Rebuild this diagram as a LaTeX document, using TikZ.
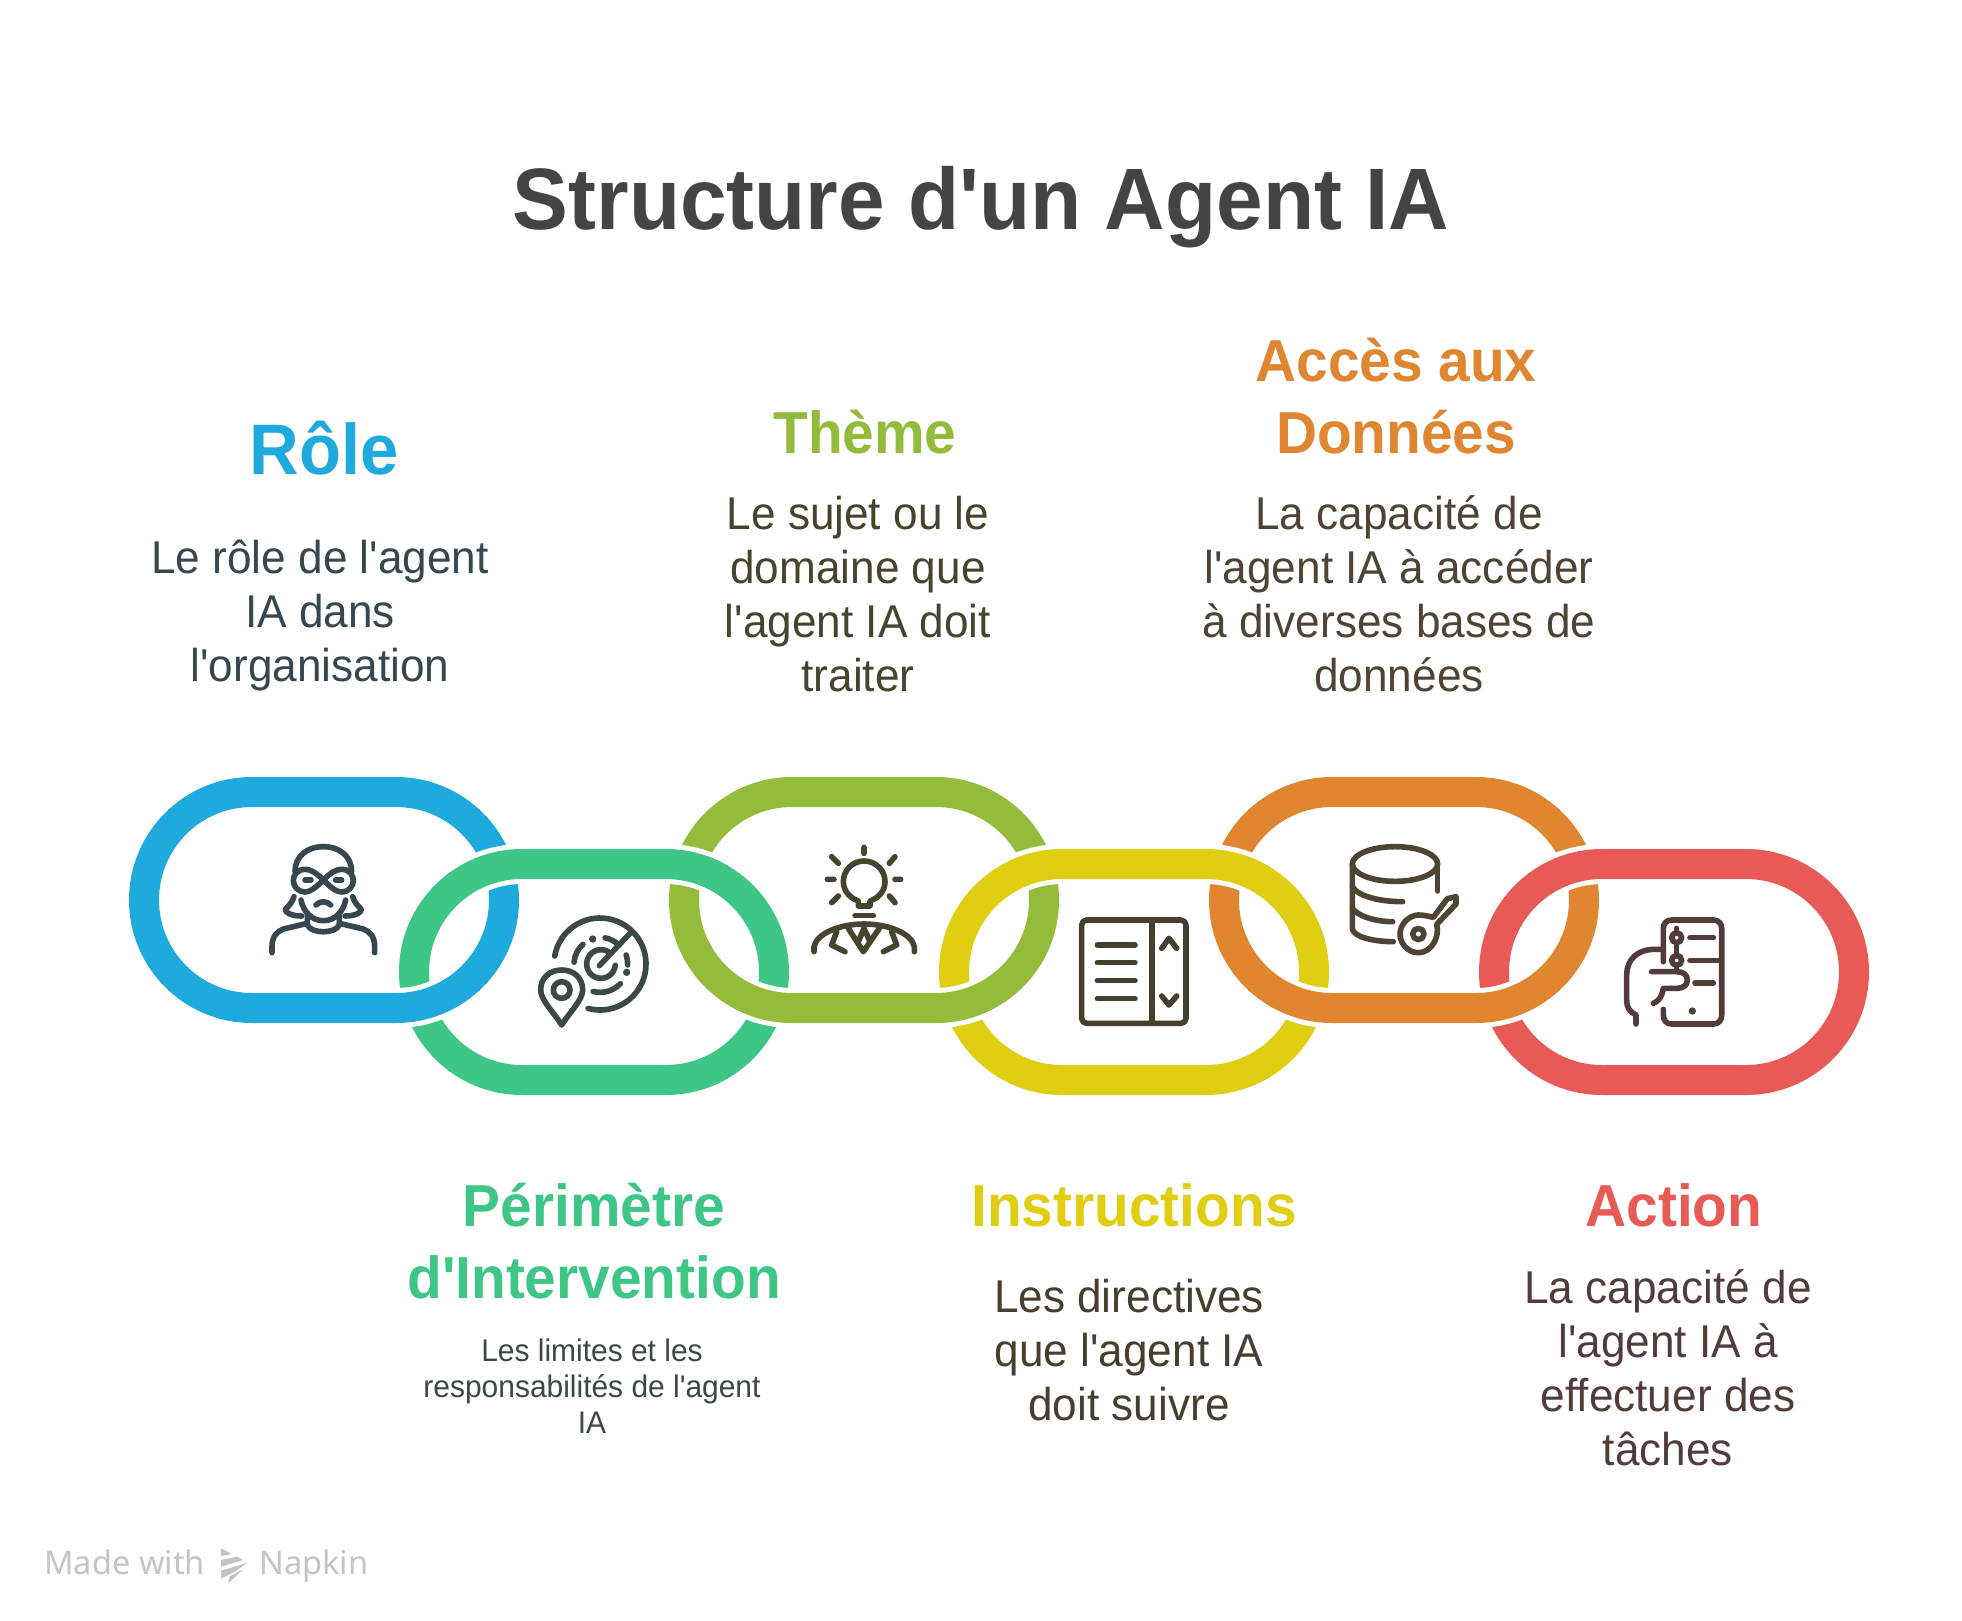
\documentclass[tikz,border=0pt]{standalone}
\usepackage{fontspec}
\setmainfont[FakeStretch=0.96,Ligatures=TeXOff]{Liberation Sans}
\newfontfamily\wm{Noto Sans}
\definecolor{cblue}{HTML}{1EAADC}
\definecolor{cgreen}{HTML}{3EC686}
\definecolor{colive}{HTML}{92BC3A}
\definecolor{cyellow}{HTML}{E0CE12}
\definecolor{corange}{HTML}{E08530}
\definecolor{cred}{HTML}{E85A55}
\definecolor{dblue}{HTML}{37474F}
\definecolor{dgreen}{HTML}{3A4A42}
\definecolor{dolive}{HTML}{45452F}
\definecolor{dyellow}{HTML}{45402E}
\definecolor{dorange}{HTML}{4F4334}
\definecolor{dred}{HTML}{523B3B}
\definecolor{ctitle}{HTML}{444444}
\definecolor{cmark}{HTML}{C4C4C4}
\tikzset{
 ringline/.style={line width=15pt},
 ringhalo/.style={line width=20pt,draw=white},
 ttl/.style={align=center,inner sep=0pt,font=\bfseries\fontsize{29.6}{36}\selectfont},
 dsc/.style={align=center,inner sep=0pt,font=\fontsize{23}{27}\selectfont},
 ico/.style={line width=2.8pt,line cap=round,line join=round},
 zoomed/.style={x=0.16667pt,y=-0.16667pt}
}
\newcommand\ringat[3]{%
 \draw[ringhalo,rounded corners=54pt] (#1,#2) rectangle ++(360,216);
 \draw[ringline,draw=#3,rounded corners=54pt] (#1,#2) rectangle ++(360,216);}
\begin{document}
\begin{tikzpicture}[x=0.5pt,y=-0.5pt]
\useasboundingbox[fill=white] (0,0) rectangle (1962,1620);
% rings: odd ones below, even ones above in the upper half
\ringat{144}{792}{cblue}
\ringat{684}{792}{colive}
\ringat{1224}{792}{corange}
\ringat{414}{864}{cgreen}
\ringat{954}{864}{cyellow}
\ringat{1494}{864}{cred}
\begin{scope}
\clip (0,936) rectangle (1962,1620);
\ringat{144}{792}{cblue}
\ringat{684}{792}{colive}
\ringat{1224}{792}{corange}
\end{scope}
% titles
\node[inner sep=0pt,text=ctitle,font=\bfseries\fontsize{43.6}{50}\selectfont] (title) at (981,207) {Structure d'un Agent IA};
\node[ttl,text=cblue,font=\bfseries\fontsize{35.8}{40}\selectfont] (t1) at (324,448) {Rôle};
\node[dsc,text=dblue] (d1) at (320,616) {Le rôle de l'agent\\IA dans\\l'organisation};
\node[ttl,text=cgreen] (t2) at (594,1241) {Périmètre\\d'Intervention};
\node[align=center,inner sep=0pt,text=dgreen,font=\fontsize{15.6}{18}\selectfont] (d2) at (592,1386) {Les limites et les\\responsabilités de l'agent\\IA};
\node[ttl,text=colive] (t3) at (865,432) {Thème};
\node[dsc,text=dolive] (d3) at (858,594) {Le sujet ou le\\domaine que\\l'agent IA doit\\traiter};
\node[ttl,text=corange] (t4) at (1396,396) {Accès aux\\Données};
\node[dsc,text=dorange] (d4) at (1399,594) {La capacité de\\l'agent IA à accéder\\à diverses bases de\\données};
\node[ttl,text=cyellow] (t5) at (1134,1205) {Instructions};
\node[dsc,text=dyellow] (d5) at (1129,1350) {Les directives\\que l'agent IA\\doit suivre};
\node[ttl,text=cred] (t6) at (1674,1205) {Action};
\node[dsc,text=dred] (d6) at (1668,1368) {La capacité de\\l'agent IA à\\effectuer des\\tâches};
% icon 1
\begin{scope}[shift={(240,830)},zoomed]
\draw[ico,draw=dblue] (165,125) .. controls (165,80) and (200,50) .. (250,50) .. controls (300,50) and (335,80) .. (335,125);
\draw[ico,draw=dblue] (250,150) .. controls (225,125) and (210,118) .. (195,118) .. controls (172,118) and (160,135) .. (160,152) .. controls (160,170) and (175,186) .. (195,186) .. controls (210,186) and (225,175) .. (250,150) .. controls (275,125) and (290,118) .. (305,118) .. controls (328,118) and (340,135) .. (340,152) .. controls (340,170) and (325,186) .. (305,186) .. controls (290,186) and (275,175) .. (250,150);
\draw[ico,draw=dblue] (195,150) -- (213,150) (287,150) -- (305,150);
\draw[ico,draw=dblue] (228,225) .. controls (240,212) and (260,212) .. (272,225);
\draw[ico,draw=dblue] (183,210) .. controls (190,245) and (215,272) .. (250,272) .. controls (285,272) and (310,245) .. (317,210);
\draw[ico,draw=dblue] (162,200) .. controls (158,215) and (148,226) .. (136,238) .. controls (135,248) and (155,258) .. (185,258);
\draw[ico,draw=dblue] (338,200) .. controls (342,215) and (352,226) .. (364,238) .. controls (365,248) and (345,258) .. (315,258);
\draw[ico,draw=dblue] (202,250) -- (202,285) .. controls (215,312) and (285,312) .. (298,285) -- (298,250);
\draw[ico,draw=dblue] (96,368) -- (96,350) .. controls (96,320) and (110,305) .. (130,297) -- (202,280);
\draw[ico,draw=dblue] (404,368) -- (404,350) .. controls (404,320) and (390,305) .. (370,297) -- (298,280);
\end{scope}
% icon 2
\begin{scope}[shift={(520,900)},zoomed]
\draw[ico,draw=dgreen] (240,192) ++(-170:138) arc[start angle=-170,end angle=105,radius=138];
\draw[ico,draw=dgreen] (240,192) ++(-176:78) arc[start angle=-176,end angle=-131,radius=78];
\draw[ico,draw=dgreen] (240,192) ++(-79:80) arc[start angle=-79,end angle=-45,radius=80];
\draw[ico,draw=dgreen] (240,192) ++(-19:83) arc[start angle=-19,end angle=2,radius=83];
\draw[ico,draw=dgreen] (240,192) ++(104:85) arc[start angle=104,end angle=44,radius=85];
\draw[ico,draw=dgreen] (243,192) ++(-60:43) arc[start angle=-60,end angle=-355,radius=43];
\draw[ico,draw=dgreen] (238,197) -- (330,100);
\fill[dgreen] (218,117) circle[radius=11] (320,217) circle[radius=11];
\draw[ico,draw=dgreen] (125,375) .. controls (100,335) and (62,300) .. (62,270) .. controls (62,232) and (90,210) .. (125,210) .. controls (160,210) and (188,232) .. (188,270) .. controls (188,300) and (150,335) .. (125,375) -- cycle;
\draw[ico,draw=dgreen] (125,270) circle[radius=25];
\end{scope}
% icon 3
\begin{scope}[shift={(790,830)},zoomed]
\draw[ico,draw=dolive] (222,52) -- (222,70) (125,80) -- (145,100) (315,80) -- (298,100) (112,148) -- (132,148) (315,148) -- (332,148) (125,218) -- (145,198) (315,218) -- (298,198);
\draw[ico,draw=dolive] (205,228) -- (205,213) .. controls (178,203) and (160,182) .. (160,155) .. controls (160,120) and (188,93) .. (222,93) .. controls (256,93) and (285,120) .. (285,155) .. controls (285,182) and (267,203) .. (240,213) -- (240,228) -- cycle;
\draw[ico,draw=dolive] (195,257) -- (250,257);
\draw[ico,draw=dolive] (72,365) -- (72,350) .. controls (80,310) and (150,282) .. (222,282) .. controls (295,282) and (365,310) .. (373,350) -- (373,365);
\draw[ico,draw=dolive] (175,295) -- (220,365) -- (268,295);
\draw[ico,draw=dolive] (222,295) -- (205,335) (222,295) -- (240,335);
\draw[ico,draw=dolive] (140,305) -- (125,345) -- (165,365) (305,305) -- (320,345) -- (280,365);
\end{scope}
% icon 4
\begin{scope}[shift={(1060,900)},zoomed]
\draw[ico,draw=dyellow,rounded corners=2.5pt] (65,60) rectangle (378,370);
\draw[ico,draw=dyellow] (276,60) -- (276,370);
\draw[ico,draw=dyellow] (112,135) -- (225,135) (112,188) -- (225,188) (112,242) -- (225,242) (112,296) -- (225,296);
\draw[ico,draw=dyellow] (305,145) -- (327,115) -- (350,145) (305,288) -- (327,315) -- (350,288);
\end{scope}
% icon 5
\begin{scope}[shift={(1330,830)},zoomed]
\draw[ico,draw=dorange] (195,102) ellipse[x radius=128,y radius=52];
\draw[ico,draw=dorange] (67,102) -- (67,295) .. controls (67,320) and (130,335) .. (190,335);
\draw[ico,draw=dorange] (67,170) .. controls (80,195) and (140,215) .. (218,215);
\draw[ico,draw=dorange] (67,235) .. controls (80,255) and (130,275) .. (188,275);
\draw[ico,draw=dorange] (323,102) -- (323,183);
\draw[ico,draw=dorange] (310,262) -- (352,206) -- (378,200) -- (378,222) -- (320,283) .. controls (330,320) and (305,368) .. (265,368) .. controls (235,368) and (210,342) .. (210,312) .. controls (210,280) and (240,255) .. (265,255) .. controls (285,255) and (300,260) .. (310,262) -- cycle;
\draw[ico,draw=dorange] (265,312) circle[radius=17];
\end{scope}
% icon 6
\begin{scope}[shift={(1600,900)},zoomed]
\draw[ico,draw=dred] (190,185) -- (190,85) .. controls (190,70) and (200,60) .. (215,60) -- (340,60) .. controls (355,60) and (365,70) .. (365,85) -- (365,345) .. controls (365,362) and (355,372) .. (340,372) -- (215,372) .. controls (200,372) and (190,362) .. (190,345) -- (190,328);
\draw[ico,draw=dred] (270,113) -- (340,113) (270,181) -- (355,181) (285,249) -- (340,249);
\draw[ico,draw=dred] (230,85) -- (230,98) (230,128) -- (230,166) (230,196) -- (230,208);
\draw[ico,draw=dred] (230,113) circle[radius=15] (230,181) circle[radius=15];
\fill[dred] (277,333) circle[radius=11];
\draw[ico,draw=dred] (190,148) -- (165,148) .. controls (110,148) and (80,180) .. (80,225) -- (80,300) .. controls (80,325) and (90,335) .. (108,345) -- (108,372);
\draw[ico,draw=dred] (155,215) -- (230,215) .. controls (250,215) and (262,225) .. (262,240) .. controls (262,255) and (250,265) .. (230,265) -- (190,265) .. controls (185,290) and (180,300) .. (160,310);
\end{scope}
% watermark
\node[inner sep=0pt,anchor=base west,text=cmark,font=\wm\fontsize{16.3}{18}\selectfont] (wm1) at (44,1574) {Made with};
\node[inner sep=0pt,anchor=base west,text=cmark,font=\wm\fontsize{16.3}{18}\selectfont] (wm2) at (259,1574) {Napkin};
\begin{scope}[shift={(30,1530)},zoomed]
\fill[cmark] (573,55) -- (605,72) -- (573,78) -- cycle;
\fill[cmark] (573,90) -- (622,80) -- (640,90) -- (573,110) -- cycle;
\fill[cmark] (573,122) -- (653,98) -- (610,128) -- (573,145) -- cycle;
\fill[cmark] (595,160) -- (598,140) -- (640,118) -- cycle;
\end{scope}
\end{tikzpicture}
\end{document}
